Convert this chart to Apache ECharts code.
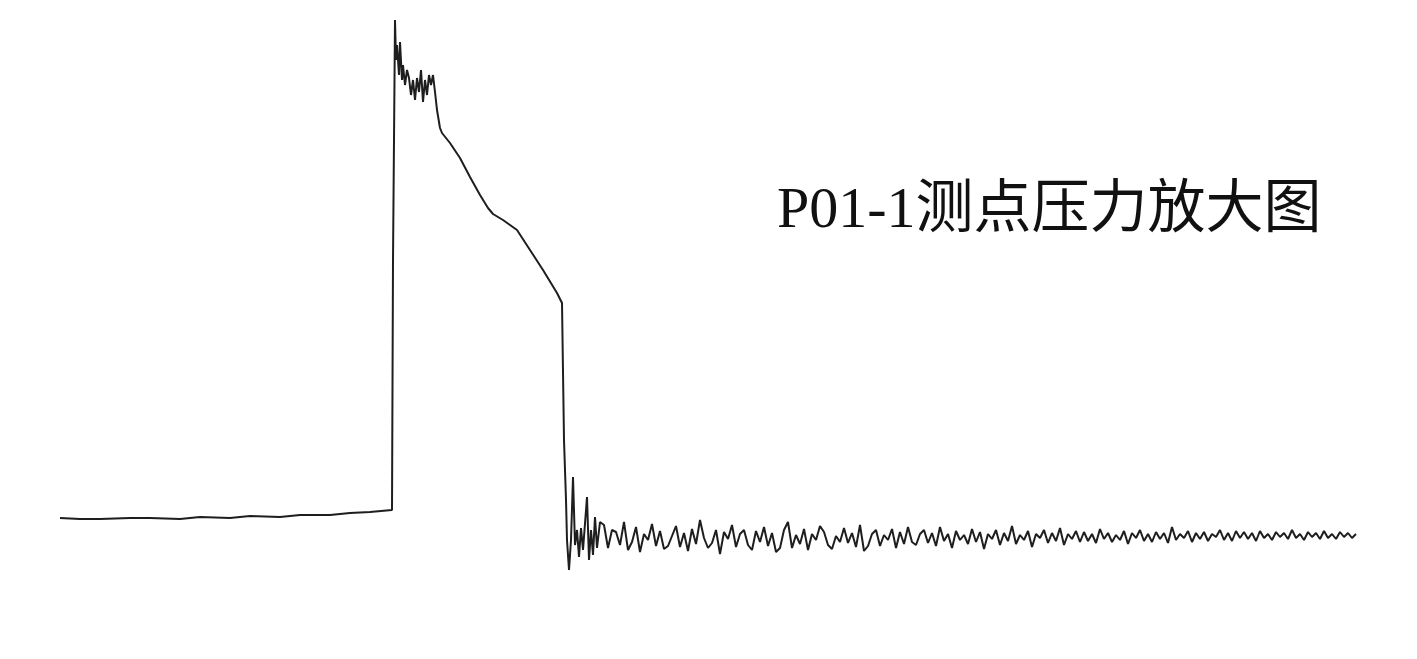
<!DOCTYPE html>
<html>
<head>
<meta charset="utf-8">
<title>P01-1测点压力放大图</title>
<script src="https://cdn.jsdelivr.net/npm/echarts@6/dist/echarts.min.js"></script>
<style>
html, body { margin: 0; padding: 0; background: #fff; }
#pressureChart { width: 1417px; height: 659px; }
</style>
</head>
<body>
<div id="pressureChart"></div>
<script>
// 图题
var chartTitle = 'P01-1测点压力放大图';

// 冲击前后的主波形 (时刻, 压力)
var mainTimes = [0, 20, 40, 70, 90, 120, 140, 170, 190, 220, 240, 270, 290, 310, 332,
    333, 335, 336, 337, 339, 340, 342, 343, 345, 347, 349, 351, 353, 355, 357, 359,
    361, 363, 365, 367, 369, 371, 373, 375, 377, 380, 382,
    390, 400, 410, 420, 428, 433, 443, 457, 470, 483, 497, 502,
    504, 506, 507, 509, 511, 513, 515, 517, 519, 521, 523, 527, 529, 531, 533, 535, 537, 540];
var mainPressure = [42, 41, 41, 42, 42, 41, 43, 42, 44, 43, 45, 45, 47, 48, 50,
    300, 540, 500, 515, 485, 518, 480, 495, 475, 490, 482, 465, 480, 460, 482, 468,
    490, 458, 480, 465, 485, 475, 485, 468, 450, 432, 427,
    417, 402, 383, 365, 352, 346, 340, 330, 310, 290, 267, 257,
    120, 60, 20, -10, 20, 83, 15, 30, 3, 32, 10, 63, 0, 30, 5, 43, 12, 38];

// 衰减后的残余脉动 (等间隔采样)
var tailStart = 544;
var tailStep = 4;
var tailPressure = [
    35, 12, 30, 28, 15, 38, 10, 18, 33, 8, 26, 20, 36, 14, 29, 11, 14, 24, 34, 13,
    27, 9, 31, 16, 40, 22, 12, 17, 30, 6, 28, 21, 35, 13, 26, 30, 15, 10, 29, 18,
    33, 14, 27, 8, 12, 30, 38, 12, 25, 16, 31, 10, 26, 20, 34, 28, 15, 11, 24, 18,
    32, 17, 27, 13, 35, 9, 14, 26, 30, 14, 25, 20, 31, 12, 28, 16, 33, 18, 15, 26,
    30, 17, 27, 14, 33, 19, 26, 12, 29, 20, 25, 16, 31, 18, 28, 11, 26, 21, 30, 15,
    27, 19, 34, 16, 25, 20, 29, 13, 26, 22, 30, 17, 27, 19, 32, 15, 26, 21, 29, 18,
    28, 19, 26, 17, 31, 21, 27, 18, 25, 20, 29, 16, 27, 22, 30, 19, 26, 18, 28, 21,
    27, 17, 33, 20, 26, 22, 29, 18, 27, 21, 28, 19, 26, 23, 30, 20, 27, 19, 29, 22,
    28, 21, 27, 19, 29, 22, 26, 20, 28, 23, 27, 21, 30, 22, 26, 20, 28, 23, 27, 21,
    29, 22, 26, 21, 28, 23, 27, 22, 26];

var seriesData = [];
for (var i = 0; i < mainTimes.length; i++) {
    seriesData.push([mainTimes[i], mainPressure[i]]);
}
for (var j = 0; j < tailPressure.length; j++) {
    seriesData.push([tailStart + j * tailStep, tailPressure[j]]);
}

var option = {
    animation: false,
    backgroundColor: '#ffffff',
    title: {
        text: chartTitle,
        left: 772,
        top: 178,
        textStyle: {
            fontFamily: "'Liberation Serif', 'Noto Sans CJK SC', serif",
            fontSize: 58,
            fontWeight: 'normal',
            color: '#111111'
        }
    },
    grid: { left: 60, right: 60, top: 0, bottom: 0 },
    xAxis: { type: 'value', min: 0, max: 1297, show: false },
    yAxis: { type: 'value', min: -99, max: 560, show: false },
    series: [{
        type: 'line',
        data: seriesData,
        showSymbol: false,
        lineStyle: { color: '#1e1e1e', width: 2 }
    }]
};

var pressureChart = echarts.init(document.getElementById('pressureChart'));
pressureChart.setOption(option);
</script>
</body>
</html>
